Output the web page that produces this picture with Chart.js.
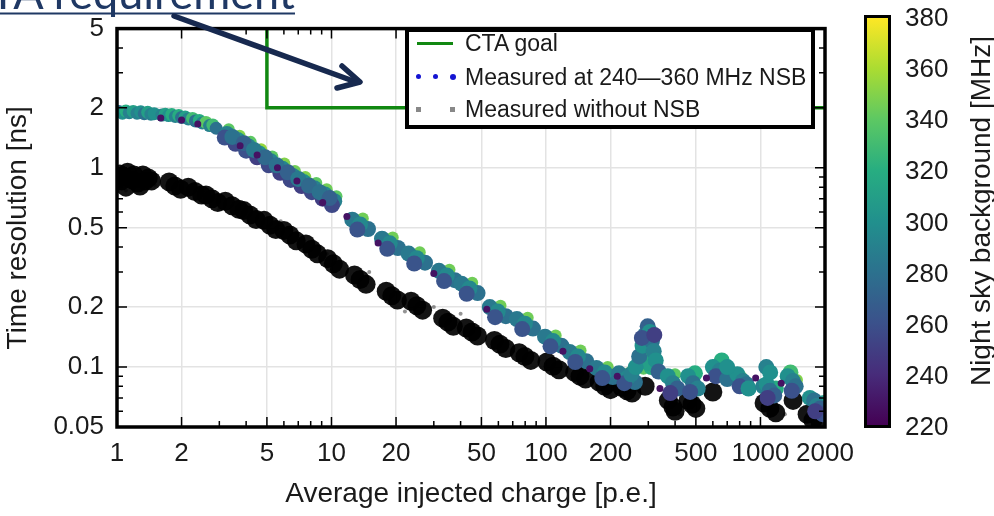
<!DOCTYPE html>
<html>
<head>
<meta charset="utf-8">
<script src="https://cdn.jsdelivr.net/npm/chart.js@4.4.1/dist/chart.umd.min.js"></script>
<style>
  html, body { margin: 0; padding: 0; background: #fff; }
  #wrap { position: relative; width: 994px; height: 516px; overflow: hidden; font-family: "Liberation Sans", Arial, sans-serif; color: #1a1a1a; }
  #chart { position: absolute; left: 0; top: 0; }
  #overlay { position: absolute; left: 0; top: 0; pointer-events: none; }
  .legend { position: absolute; left: 405px; top: 28px; width: 410px; height: 101px; box-sizing: border-box; border: 4px solid #000; background: #fff; }
  .legend .txt { position: absolute; left: 56px; font-size: 23px; line-height: 28px; white-space: nowrap; transform: translateY(-50%); }
  .legend .line { position: absolute; left: 8px; width: 36px; height: 3px; background: #118811; }
  .legend .dot { position: absolute; width: 5px; height: 5px; border-radius: 50%; background: #1414d2; }
  .legend .sq { position: absolute; width: 5px; height: 5px; background: #888; }
  .cbar { position: absolute; left: 864px; top: 15px; width: 27px; height: 413px; box-sizing: border-box; border: 3px solid #000; }
  .cbtick { position: absolute; left: 905px; font-size: 26px; line-height: 28px; transform: translateY(-50%); }
  .cbtitle { position: absolute; left: 981px; top: 211px; font-size: 28px; white-space: nowrap; transform: translate(-50%, -50%) rotate(-90deg); }
</style>
</head>
<body>
<div id="wrap">
  <canvas id="chart" width="994" height="516"></canvas>
  <svg id="overlay" width="994" height="516">
    <text x="295" y="9" text-anchor="end" font-family="Lato" font-size="45" fill="#1f3864">CTA requirement</text>
    <line x1="0" y1="13.5" x2="295" y2="13.5" stroke="#1f3864" stroke-width="2"/>
    <line x1="174" y1="16" x2="356" y2="82" stroke="#17294f" stroke-width="5.5" stroke-linecap="round"/>
    <polyline points="342,66 360,82 337,88" fill="none" stroke="#17294f" stroke-width="5.5" stroke-linecap="round" stroke-linejoin="round"/>
  </svg>
  <div class="legend">
    <div class="line" style="top:10px"></div>
    <div class="txt" style="top:11px">CTA goal</div>
    <div class="dot" style="left:7px;top:42px"></div>
    <div class="dot" style="left:24px;top:42px"></div>
    <div class="dot" style="left:41px;top:42px;width:6px;height:6px"></div>
    <div class="txt" style="top:45px">Measured at 240—360 MHz NSB</div>
    <div class="sq" style="left:7px;top:75px"></div>
    <div class="sq" style="left:41px;top:75px"></div>
    <div class="txt" style="top:77px">Measured without NSB</div>
  </div>
  <div class="cbar" id="cbar"></div>
  <div id="cbticks"></div>
  <div class="cbtitle">Night sky background [MHz]</div>
</div>
<script>
// axis ticks
const xMajorTicks = [1, 2, 5, 10, 20, 50, 100, 200, 500, 1000, 2000];
const xMinorTicks = [3, 4, 6, 7, 8, 9, 30, 40, 60, 70, 80, 90, 300, 400, 600, 700, 800, 900];
const yMajorTicks = [0.05, 0.1, 0.2, 0.5, 1, 2, 5];
const yMinorTicks = [0.06, 0.07, 0.08, 0.09, 0.3, 0.4, 0.6, 0.7, 0.8, 0.9, 3, 4];
const colorbarTicks = [380, 360, 340, 320, 300, 280, 260, 240, 220];

// CTA goal (step)
const ctaGoalCharge = [1, 5, 5, 2000];
const ctaGoalRes = [20, 20, 2, 2];

// measured at 240-360 MHz NSB: charge [p.e.], resolution [ns], NSB rate [MHz]
const nsbCharge = [
  1.02, 1.06, 1.1, 1.14, 1.19, 1.24, 1.29, 1.34, 1.39, 1.44, 1.49,
  1.62, 1.68, 1.74, 1.8, 1.87, 1.94, 2.0, 2.08, 2.15, 2.25, 2.32, 2.42, 2.5, 2.6, 2.7, 2.8, 2.9,
  3.32, 3.25, 3.18, 3.73, 3.65, 3.57, 4.2, 4.1, 4.0, 4.7, 4.6, 4.5, 5.3, 5.2, 5.1,
  6.03, 5.9, 5.77, 6.75, 6.6, 6.45, 7.55, 7.4, 7.25, 8.5, 8.3, 8.1, 9.5, 9.3, 9.1, 10.55, 10.3, 10.05,
  3.45, 3.9, 4.35, 4.9, 5.55, 6.25, 7.0, 7.85, 8.8, 9.8,
  14.0, 12.5, 14.8, 13.6, 13.2,
  19.3, 17.2, 20.4, 18.7, 18.2,
  25.8, 22.9, 27.3, 25, 24.3,
  35.5, 31.7, 37.6, 34.5, 33.5,
  45.3, 40.4, 48, 44, 42.7,
  61.4, 54.7, 65, 59.6, 57.9,
  82.2, 73.2, 87, 79.8, 77.5,
  111, 99, 118, 108, 105,
  145, 129, 154, 141, 137,
  194, 172, 205, 188, 183,
  246, 219, 260, 239, 232,
  292, 285, 310, 300, 250, 262, 272, 282, 290, 298, 305, 312, 318, 325, 335, 280, 320,
  400, 370, 391, 410, 380,
  495, 460, 485, 510, 470,
  630, 660, 600, 647, 680, 620, 700,
  810, 780, 829, 860, 800, 880,
  1180, 1030, 1070, 1107, 1160, 1080,
  1480, 1380, 1340, 1417, 1460, 1400,
  1980, 1700, 1780, 1834, 1900, 1950, 1800,
  700, 1065, 1110,
  1.6, 2.0, 2.38, 3.75, 4.5, 5.6, 6.9, 9.1,
  11.8, 16.5, 30, 53, 120, 160, 215, 340, 560, 950, 1250
];
const nsbRes = [
  1.92, 1.88, 1.93, 1.89, 1.92, 1.88, 1.91, 1.87, 1.9, 1.86, 1.87,
  1.84, 1.86, 1.83, 1.85, 1.81, 1.83, 1.79, 1.8, 1.76, 1.77, 1.72, 1.73, 1.68, 1.69, 1.63, 1.64, 1.58,
  1.56, 1.48, 1.42, 1.45, 1.38, 1.32, 1.35, 1.28, 1.22, 1.24, 1.18, 1.13, 1.14, 1.08, 1.03,
  1.05, 0.99, 0.945, 0.965, 0.91, 0.87, 0.9, 0.85, 0.81, 0.84, 0.79, 0.755, 0.78, 0.735, 0.7, 0.72, 0.68, 0.65,
  1.43, 1.33, 1.23, 1.13, 1.03, 0.95, 0.88, 0.815, 0.755, 0.705,
  0.556, 0.549, 0.493, 0.52, 0.49,
  0.447, 0.441, 0.396, 0.418, 0.392,
  0.377, 0.371, 0.334, 0.352, 0.331,
  0.308, 0.304, 0.273, 0.288, 0.27,
  0.265, 0.262, 0.235, 0.248, 0.233,
  0.203, 0.2, 0.18, 0.19, 0.178,
  0.177, 0.174, 0.156, 0.165, 0.155,
  0.144, 0.142, 0.128, 0.135, 0.127,
  0.121, 0.119, 0.107, 0.113, 0.106,
  0.1, 0.099, 0.089, 0.094, 0.088,
  0.094, 0.093, 0.084, 0.088, 0.083,
  0.118, 0.098, 0.1, 0.105, 0.092, 0.1, 0.113, 0.128, 0.145, 0.16, 0.15, 0.135, 0.12, 0.108, 0.095, 0.14, 0.145,
  0.092, 0.09, 0.083, 0.078, 0.074,
  0.093, 0.09, 0.083, 0.078, 0.075,
  0.104, 0.108, 0.1, 0.096, 0.091, 0.09, 0.087,
  0.09, 0.092, 0.085, 0.082, 0.08, 0.078,
  0.078, 0.08, 0.082, 0.076, 0.072, 0.07,
  0.086, 0.094, 0.09, 0.085, 0.08, 0.076,
  0.066, 0.07, 0.068, 0.064, 0.062, 0.058, 0.06,
  0.1, 0.1, 0.094,
  1.78, 1.74, 1.66, 1.29, 1.16, 1.0, 0.86, 0.67,
  0.57, 0.42, 0.295, 0.195, 0.12, 0.098, 0.09, 0.078, 0.088, 0.088, 0.083
];
const nsbRate = [
  280, 300, 320, 290, 310, 290, 300, 280, 310, 290, 300,
  290, 310, 300, 320, 290, 320, 280, 310, 290, 330, 280, 320, 290, 340, 290, 330, 280,
  340, 290, 260, 350, 300, 255, 340, 290, 260, 355, 300, 250, 340, 290, 255,
  350, 295, 250, 345, 290, 255, 350, 300, 250, 340, 290, 255, 345, 295, 250, 340, 290, 255,
  280, 270, 285, 275, 280, 270, 285, 275, 280, 270,
  345, 285, 280, 295, 262,
  345, 285, 280, 295, 262,
  345, 285, 280, 295, 262,
  345, 285, 280, 295, 262,
  345, 285, 280, 295, 262,
  345, 285, 280, 295, 262,
  345, 285, 280, 295, 262,
  345, 285, 280, 295, 262,
  345, 285, 280, 295, 262,
  345, 285, 280, 295, 262,
  345, 285, 280, 295, 262,
  330, 340, 320, 310, 290, 300, 280, 300, 290, 270, 300, 280, 290, 300, 270, 260, 250,
  340, 300, 290, 270, 250,
  320, 300, 280, 290, 260,
  340, 320, 300, 290, 300, 260, 280,
  340, 300, 290, 280, 260, 300,
  320, 290, 300, 280, 270, 250,
  350, 330, 300, 290, 280, 260,
  310, 300, 280, 290, 270, 260, 250,
  300, 290, 300,
  228, 228, 228, 228, 228, 228, 228, 228,
  228, 228, 228, 228, 228, 228, 228, 228, 228, 228, 228
];

// measured without NSB
const noNsbCharge = [
  1.03, 1.05, 1.08, 1.12, 1.18, 1.2, 1.25, 1.32, 1.35, 1.4, 1.45, 1.1, 1.28,
  1.75, 1.86, 1.98, 2.15, 2.31, 2.48, 2.6, 2.77, 2.95, 3.2, 3.44, 3.7,
  3.9, 4.17, 4.45, 4.85, 5.17, 5.5, 6.0, 6.4, 6.85, 7.6, 8.1, 8.6,
  9.6, 10.2, 10.9, 12.8, 13.6, 14.5, 18, 19.1, 20.3, 23.5, 25, 26.6,
  33, 34.9, 37, 42.5, 45.2, 48, 57.5, 61, 65, 75, 79.8, 85,
  101, 108, 115, 136, 144, 153, 177, 188, 200, 226, 239, 252, 290,
  372, 391, 400, 460, 480, 500, 600, 1040, 1107, 1180, 1420, 1650, 1757, 1900
];
const noNsbRes = [
  0.93, 0.86, 0.9, 0.95, 0.87, 0.92, 0.84, 0.92, 0.86, 0.89, 0.86, 0.8, 0.81,
  0.85, 0.81, 0.78, 0.8, 0.76, 0.73, 0.73, 0.7, 0.67, 0.68, 0.645, 0.62,
  0.61, 0.58, 0.55, 0.545, 0.515, 0.49, 0.485, 0.46, 0.43, 0.415, 0.39, 0.37,
  0.35, 0.33, 0.31, 0.29, 0.275, 0.26, 0.24, 0.228, 0.217, 0.214, 0.203, 0.193,
  0.176, 0.168, 0.16, 0.157, 0.15, 0.143, 0.136, 0.13, 0.124, 0.118, 0.113, 0.108,
  0.106, 0.101, 0.097, 0.094, 0.09, 0.087, 0.084, 0.08, 0.077, 0.079, 0.076, 0.074, 0.08,
  0.068, 0.063, 0.06, 0.068, 0.065, 0.062, 0.075, 0.066, 0.062, 0.059, 0.068, 0.058, 0.054, 0.052
];
const noNsbStrayCharge = [1.5, 2.0, 3.0, 5.8, 9.5, 15, 22, 40, 70, 160, 420, 1300, 1.1, 4.0, 30];
const noNsbStrayRes = [0.82, 0.86, 0.62, 0.54, 0.37, 0.3, 0.19, 0.185, 0.12, 0.1, 0.058, 0.058, 0.77, 0.64, 0.2];

// viridis colour map for the NSB rate
const viridisStops = ['#440154', '#472c7a', '#3b518b', '#2c718e', '#21908d', '#27ad81', '#5cc863', '#aadc32', '#fde725'];
function hexToRgb(h) {
  return [parseInt(h.slice(1, 3), 16), parseInt(h.slice(3, 5), 16), parseInt(h.slice(5, 7), 16)];
}
function viridis(v) {
  let t = Math.min(1, Math.max(0, (v - 220) / 160)) * (viridisStops.length - 1);
  const i = Math.min(viridisStops.length - 2, Math.floor(t));
  const f = t - i;
  const a = hexToRgb(viridisStops[i]), b = hexToRgb(viridisStops[i + 1]);
  const c = a.map((q, k) => Math.round(q + (b[k] - q) * f));
  return 'rgb(' + c.join(',') + ')';
}

// marker size: small dark outliers, small bright rim points, thinner band at low charge
function nsbRadius(c) {
  const i = c.dataIndex;
  if (nsbRate[i] < 235) return 3.5;
  if (nsbCharge[i] < 3) return 6.5;
  return nsbRate[i] >= 340 ? 6 : 8;
}

// colour bar
document.getElementById('cbar').style.background =
  'linear-gradient(to top, ' + viridisStops.join(', ') + ')';
const cbticks = document.getElementById('cbticks');
colorbarTicks.forEach(v => {
  const s = document.createElement('div');
  s.className = 'cbtick';
  s.textContent = v;
  s.style.top = (426 - (v - 220) / 160 * 409) + 'px';
  cbticks.appendChild(s);
});

// frame + inward ticks on all four sides
const frameTicks = {
  id: 'frameTicks',
  afterDatasetsDraw(chart) {
    const {ctx, chartArea: a, scales: {x, y}} = chart;
    ctx.save();
    ctx.strokeStyle = '#000';
    ctx.lineWidth = 1.5;
    ctx.beginPath();
    xMajorTicks.concat(xMinorTicks).forEach(v => {
      const px = x.getPixelForValue(v);
      const len = xMajorTicks.includes(v) ? 10 : 6;
      ctx.moveTo(px, a.bottom); ctx.lineTo(px, a.bottom - len);
      ctx.moveTo(px, a.top); ctx.lineTo(px, a.top + len);
    });
    yMajorTicks.concat(yMinorTicks).forEach(v => {
      const py = y.getPixelForValue(v);
      const len = yMajorTicks.includes(v) ? 10 : 6;
      ctx.moveTo(a.left, py); ctx.lineTo(a.left + len, py);
      ctx.moveTo(a.right, py); ctx.lineTo(a.right - len, py);
    });
    ctx.stroke();
    ctx.lineWidth = 3.5;
    ctx.strokeRect(a.left, a.top, a.right - a.left, a.bottom - a.top);
    ctx.restore();
  }
};

const tickFont = {family: "'Liberation Sans', Arial, sans-serif", size: 26};
const titleFont = {family: "'Liberation Sans', Arial, sans-serif", size: 28};

new Chart(document.getElementById('chart'), {
  type: 'scatter',
  data: {
    datasets: [
      {
        label: 'Measured at 240—360 MHz NSB',
        data: nsbCharge.map((c, i) => ({x: c, y: nsbRes[i]})),
        pointRadius: nsbRadius,
        pointBorderWidth: 0,
        pointBackgroundColor: nsbRate.map(viridis),
        order: 0
      },
      {
        label: 'Measured without NSB',
        data: noNsbCharge.map((c, i) => ({x: c, y: noNsbRes[i]})),
        pointRadius: 9.5,
        pointBorderWidth: 0,
        pointBackgroundColor: 'rgba(0,0,0,0.92)',
        order: 1
      },
      {
        label: 'stray',
        data: noNsbStrayCharge.map((c, i) => ({x: c, y: noNsbStrayRes[i]})),
        pointRadius: 2,
        pointBorderWidth: 0,
        pointBackgroundColor: 'rgba(60,60,60,0.55)',
        order: 2
      },
      {
        type: 'line',
        label: 'CTA goal',
        data: ctaGoalCharge.map((c, i) => ({x: c, y: ctaGoalRes[i]})),
        borderColor: '#118811',
        borderWidth: 3.5,
        pointRadius: 0,
        showLine: true,
        fill: false,
        tension: 0,
        clip: 0,
        order: 3
      }
    ]
  },
  options: {
    responsive: false,
    animation: false,
    layout: {padding: {top: 17, right: 169, left: 0, bottom: 0}},
    plugins: {legend: {display: false}, tooltip: {enabled: false}},
    scales: {
      x: {
        type: 'logarithmic',
        min: 1,
        max: 2000,
        afterBuildTicks: s => { s.ticks = xMajorTicks.concat(xMinorTicks).sort((a, b) => a - b).map(v => ({value: v})); },
        afterFit: s => { s.height = 89; },
        grid: {
          color: c => (c.tick && xMajorTicks.includes(c.tick.value)) ? '#e3e3e3' : 'rgba(0,0,0,0)',
          lineWidth: 1.5,
          drawTicks: false
        },
        border: {display: false},
        ticks: {
          autoSkip: false,
          maxRotation: 0,
          padding: 11,
          font: tickFont,
          color: '#1a1a1a',
          callback: v => xMajorTicks.includes(v) ? String(v) : ''
        },
        title: {display: true, text: 'Average injected charge [p.e.]', font: titleFont, color: '#1a1a1a', padding: {top: 0, bottom: 5}}
      },
      y: {
        type: 'logarithmic',
        min: 0.05,
        max: 5,
        afterBuildTicks: s => { s.ticks = yMajorTicks.concat(yMinorTicks).sort((a, b) => a - b).map(v => ({value: v})); },
        afterFit: s => { s.width = 117; },
        grid: {
          color: c => (c.tick && yMajorTicks.includes(c.tick.value)) ? '#e3e3e3' : 'rgba(0,0,0,0)',
          lineWidth: 1.5,
          drawTicks: false
        },
        border: {display: false},
        ticks: {
          autoSkip: false,
          padding: 13,
          font: tickFont,
          color: '#1a1a1a',
          callback: v => yMajorTicks.includes(v) ? String(v) : ''
        },
        title: {display: true, text: 'Time resolution [ns]', font: titleFont, color: '#1a1a1a', padding: {top: 1, bottom: 0}}
      }
    }
  },
  plugins: [frameTicks]
});
</script>
</body>
</html>
